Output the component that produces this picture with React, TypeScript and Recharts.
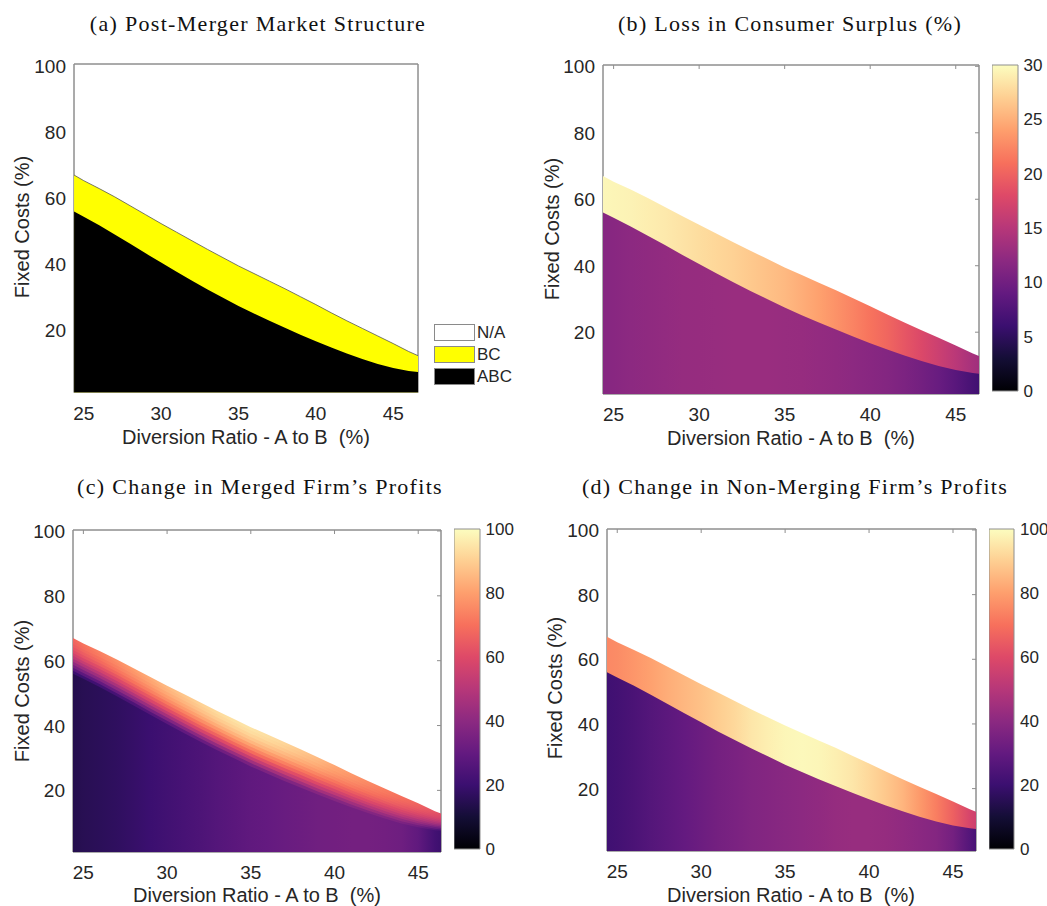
import React from 'react'
import { ComposedChart, Area, Bar, XAxis, YAxis, ReferenceArea } from 'recharts'

// diversion ratio sample points (%), edges of the grid included
const DIVERSION = [24.375, 25, 26, 27, 28, 29, 30, 31, 32, 33, 34, 35, 36, 37, 38, 39, 40, 41, 42, 43, 44, 45, 46, 46.625]
// fixed cost thresholds (%)
const BC_UPPER = [67, 65.3, 62.9, 60.4, 57.7, 55.0, 52.3, 49.7, 47.1, 44.5, 42.0, 39.5, 37.2, 34.9, 32.6, 30.2, 27.8, 25.3, 22.9, 20.6, 18.3, 16.0, 13.6, 12.3]
const ABC_UPPER = [56, 54.4, 51.8, 49.0, 46.2, 43.3, 40.5, 37.7, 35.0, 32.4, 29.9, 27.4, 25.1, 22.9, 20.8, 18.7, 16.7, 14.8, 13.0, 11.3, 9.8, 8.6, 7.7, 7.4]

// (b) loss in consumer surplus, %
const CS_LOSS_ABC = [11.5, 11.7, 12.0, 12.2, 12.4, 12.6, 12.7, 12.8, 12.9, 12.9, 12.9, 12.8, 12.7, 12.5, 12.3, 12.0, 11.7, 11.3, 10.8, 10.1, 9.3, 8.2, 6.8, 6.0]
const CS_LOSS_BC = [29.6, 29.5, 29.3, 29.0, 28.7, 28.3, 27.9, 27.5, 27.1, 26.6, 26.1, 25.6, 24.9, 24.1, 23.2, 22.2, 21.2, 20.2, 19.0, 17.8, 16.5, 15.2, 13.8, 13.0]

// (c) merged firm's profit change: level below the band and at its top edge
const MERGED_BASE = [14, 15, 16, 17, 18.5, 20, 21.5, 23, 24.5, 26, 27.5, 29, 30, 31, 32, 33, 33.5, 34, 34, 33.5, 32.5, 29, 22, 19]
const MERGED_PEAK = [68, 71, 74, 77, 80, 83, 86, 88.5, 91, 93, 94.5, 95, 94, 92, 89, 86, 82, 79, 76, 73, 70, 67, 63, 60]
// share of (peak - base) reached inside each slice of the BC band, bottom to top
const MERGED_RAMP = [0.1, 0.24, 0.38, 0.5, 0.61, 0.7, 0.78, 0.85, 0.9, 0.94, 0.97, 0.99]

// (d) non-merging firm's profit change
const RIVAL_ABC = [21, 22, 24, 26, 28, 30, 32, 34, 35.5, 37, 38, 39, 40, 41, 42, 42.5, 42.5, 42, 41, 39.5, 38, 34, 26, 21]
const RIVAL_BC = [75, 76, 78, 80.5, 83, 85, 87, 89.5, 92, 95, 97, 98.5, 99, 98.5, 97, 95, 92, 88.5, 84.5, 79, 73, 66, 58, 54]

const X_TICKS = [25, 30, 35, 40, 45]
const Y_TICKS = [20, 40, 60, 80, 100]
const CS_TICKS = [0, 5, 10, 15, 20, 25, 30]
const PROFIT_TICKS = [0, 20, 40, 60, 80, 100]

const LEGEND_ITEMS = [
    { label: 'N/A', color: '#ffffff' },
    { label: 'BC', color: '#ffff00' },
    { label: 'ABC', color: '#000000' }
]

const X_LABEL = 'Diversion Ratio - A to B  (%)'
const Y_LABEL = 'Fixed Costs (%)'

const FRAME = '#8e8e8e'
const INK = '#262626'
const SANS = '"Liberation Sans", Arial, sans-serif'
const SERIF = '"Liberation Serif", "Times New Roman", serif'

const MAGMA = ['#000004', '#140e36', '#3b0f70', '#641a80', '#8c2981', '#b73779', '#de4968', '#f7705c', '#fe9f6d', '#fecf92', '#fcfdbf']

type Row = { x: number; up: number; low: number }

const ROWS: Row[] = DIVERSION.map((x, i) => ({ x, up: BC_UPPER[i], low: ABC_UPPER[i] }))

function hexRgb(h: string) {
    return [1, 3, 5].map(k => parseInt(h.slice(k, k + 2), 16))
}

function magma(t: number) {
    const c = Math.max(0, Math.min(1, t)) * (MAGMA.length - 1)
    const i = Math.min(Math.floor(c), MAGMA.length - 2)
    const f = c - i
    const a = hexRgb(MAGMA[i])
    const b = hexRgb(MAGMA[i + 1])
    const m = a.map((v, k) => Math.round(v + (b[k] - v) * f))
    return `rgb(${m[0]},${m[1]},${m[2]})`
}

type Layer = { id: string; top: (r: Row) => number; colors?: string[]; fill?: string; stroke?: string }

type Rect = { x: number; y: number; w: number; h: number }

const AXIS_W = 60
const AXIS_H = 40
const PAD = 12
const TICK_FONT = 19

const BottomTick = (p: any) => (
    <text x={p.x} y={p.y + 27} textAnchor="middle" fontSize={TICK_FONT} fill={INK} fontFamily={SANS}>
        {p.payload.value}
    </text>
)

const LeftTick = (p: any) => (
    <text x={p.x - 8} y={p.y + 7} textAnchor="end" fontSize={TICK_FONT} fill={INK} fontFamily={SANS}>
        {p.payload.value}
    </text>
)

const TopTick = (p: any) => <line x1={p.x} x2={p.x} y1={p.y} y2={p.y + 4} stroke={FRAME} />
const RightTick = (p: any) => <line x1={p.x} x2={p.x - 4} y1={p.y} y2={p.y} stroke={FRAME} />
const NoTick = () => <g />

function Panel({ id, plot, xDomain, yDomain, layers, boxTicks }: {
    id: string; plot: Rect; xDomain: number[]; yDomain: number[]; layers: Layer[]; boxTicks: boolean
}) {
    const x0 = DIVERSION[0]
    const span = DIVERSION[DIVERSION.length - 1] - x0
    return (
        <div style={{ position: 'absolute', left: plot.x - AXIS_W, top: plot.y - PAD }}>
            <ComposedChart
                width={plot.w + AXIS_W + PAD}
                height={plot.h + PAD + AXIS_H}
                data={ROWS}
                margin={{ top: PAD - 1, right: PAD - 1, bottom: 0, left: 0 }}
            >
                <defs>
                    {layers.filter(l => l.colors).map(l => (
                        <linearGradient key={l.id} id={`${id}-${l.id}`} x1="0" y1="0" x2="1" y2="0">
                            {l.colors!.map((c, i) => (
                                <stop key={i} offset={(DIVERSION[i] - x0) / span} stopColor={c} />
                            ))}
                        </linearGradient>
                    ))}
                </defs>
                <XAxis dataKey="x" type="number" domain={xDomain} ticks={X_TICKS} allowDataOverflow interval={0}
                    height={AXIS_H} tickSize={0} tickMargin={0} axisLine={{ stroke: FRAME }} tick={BottomTick} />
                <XAxis xAxisId="top" dataKey="x" orientation="top" type="number" domain={xDomain} ticks={X_TICKS}
                    allowDataOverflow interval={0} height={1} tickSize={0} tickMargin={0} axisLine={{ stroke: FRAME }}
                    tick={boxTicks ? TopTick : NoTick} />
                <YAxis type="number" domain={yDomain} ticks={Y_TICKS} allowDataOverflow interval={0}
                    width={AXIS_W} tickSize={0} tickMargin={0} axisLine={{ stroke: FRAME }} tick={LeftTick} />
                <YAxis yAxisId="right" orientation="right" type="number" domain={yDomain} ticks={Y_TICKS}
                    allowDataOverflow interval={0} width={1} tickSize={0} tickMargin={0}
                    axisLine={{ stroke: FRAME }} tick={boxTicks ? RightTick : NoTick} />
                <ReferenceArea x1={xDomain[0]} x2={xDomain[1]} y1={yDomain[0]} y2={yDomain[1]}
                    fill="none" stroke={FRAME} strokeWidth={1} ifOverflow="visible" />
                {/* keeps the top and right axes in use so their box ticks get drawn */}
                <Area xAxisId="top" yAxisId="right" type="linear" dataKey="low" fill="none" stroke="none"
                    dot={false} activeDot={false} isAnimationActive={false} />
                {layers.map(l => (
                    <Area
                        key={l.id}
                        type="linear"
                        dataKey={l.top}
                        fill={l.colors ? `url(#${id}-${l.id})` : l.fill}
                        fillOpacity={1}
                        stroke={l.stroke ?? 'none'}
                        strokeWidth={0.8}
                        dot={false}
                        activeDot={false}
                        zIndex={600}
                        isAnimationActive={false}
                    />
                ))}
            </ComposedChart>
        </div>
    )
}

function ColorBar({ id, rect, max, ticks }: { id: string; rect: Rect; max: number; ticks: number[] }) {
    const CbTick = (p: any) => (
        <text x={p.x + 6} y={p.y + 6} textAnchor="start" fontSize={17} fill={INK} fontFamily={SANS}>
            {p.payload.value}
        </text>
    )
    return (
        <div style={{ position: 'absolute', left: rect.x, top: rect.y - PAD }}>
            <ComposedChart width={rect.w + 50} height={rect.h + 2 * PAD} data={[{ name: 'scale', top: max }]}
                margin={{ top: PAD, right: 0, bottom: PAD, left: 0 }} barCategoryGap={0}>
                <defs>
                    <linearGradient id={`cb-${id}`} x1="0" y1="1" x2="0" y2="0">
                        {MAGMA.map((c, i) => (
                            <stop key={i} offset={i / (MAGMA.length - 1)} stopColor={c} />
                        ))}
                    </linearGradient>
                </defs>
                <XAxis dataKey="name" type="category" hide />
                <YAxis orientation="right" type="number" domain={[0, max]} ticks={ticks} interval={0} width={50}
                    tickSize={0} tickMargin={0} axisLine={false} tick={CbTick} />
                <Bar dataKey="top" fill={`url(#cb-${id})`} stroke={FRAME} strokeWidth={1} isAnimationActive={false} />
            </ComposedChart>
        </div>
    )
}

const toColors = (vals: number[], max: number) => vals.map(v => magma(v / max))

const bandLevel = (k: number, n: number) => (r: Row) => r.low + ((r.up - r.low) * k) / n

// panel (c): band drawn as slices from the top down, each filling to the floor
const mergedLayers: Layer[] = [
    ...MERGED_RAMP.map((_, idx) => {
        const k = MERGED_RAMP.length - idx
        const share = MERGED_RAMP[k - 1]
        return {
            id: `ramp${k}`,
            top: bandLevel(k, MERGED_RAMP.length),
            colors: MERGED_BASE.map((b, i) => magma((b + (MERGED_PEAK[i] - b) * share) / 100))
        }
    }),
    { id: 'abc', top: (r: Row) => r.low, colors: toColors(MERGED_BASE, 100) }
]

function Title({ text, cx, cy }: { text: string; cx: number; cy: number }) {
    return (
        <div style={{
            position: 'absolute', left: cx - 300, top: cy - 14, width: 600, textAlign: 'center',
            fontFamily: SERIF, fontSize: 22, lineHeight: '28px', letterSpacing: 1.3, color: '#111', whiteSpace: 'nowrap'
        }}>{text}</div>
    )
}

function XLabel({ cx, cy }: { cx: number; cy: number }) {
    return (
        <div style={{
            position: 'absolute', left: cx - 200, top: cy - 12, width: 400, textAlign: 'center',
            fontFamily: SANS, fontSize: 20, lineHeight: '24px', color: INK, whiteSpace: 'pre'
        }}>{X_LABEL}</div>
    )
}

function YLabel({ cx, cy }: { cx: number; cy: number }) {
    return (
        <div style={{
            position: 'absolute', left: cx, top: cy, transform: 'translate(-50%, -50%) rotate(-90deg)',
            fontFamily: SANS, fontSize: 20, lineHeight: '24px', color: INK, whiteSpace: 'nowrap'
        }}>{Y_LABEL}</div>
    )
}

export default function App() {
    return (
        <div style={{ position: 'absolute', left: 0, top: 0, width: 1047, height: 906, background: '#fff' }}>
            <Title text="(a) Post-Merger Market Structure" cx={258} cy={24} />
            <Title text="(b) Loss in Consumer Surplus (%)" cx={790} cy={24} />
            <Title text="(c) Change in Merged Firm’s Profits" cx={260} cy={487} />
            <Title text="(d) Change in Non-Merging Firm’s Profits" cx={795} cy={487} />

            <Panel id="a" plot={{ x: 74, y: 63.5, w: 344, h: 328.5 }} xDomain={[24.37, 46.6]} yDomain={[1.2, 100.6]}
                boxTicks={false}
                layers={[
                    { id: 'bc', top: r => r.up, fill: '#ffff00', stroke: '#555' },
                    { id: 'abc', top: r => r.low, fill: '#000000' }
                ]} />
            <Panel id="b" plot={{ x: 603, y: 64.5, w: 376, h: 329 }} xDomain={[24.38, 46.36]} yDomain={[1.4, 100.4]}
                boxTicks
                layers={[
                    { id: 'bc', top: r => r.up, colors: toColors(CS_LOSS_BC, 30) },
                    { id: 'abc', top: r => r.low, colors: toColors(CS_LOSS_ABC, 30) }
                ]} />
            <Panel id="c" plot={{ x: 73, y: 530, w: 368, h: 322 }} xDomain={[24.38, 46.36]} yDomain={[1, 100.3]}
                boxTicks layers={mergedLayers} />
            <Panel id="d" plot={{ x: 607, y: 529, w: 369, h: 322 }} xDomain={[24.39, 46.37]} yDomain={[0.7, 100.3]}
                boxTicks
                layers={[
                    { id: 'bc', top: r => r.up, colors: toColors(RIVAL_BC, 100) },
                    { id: 'abc', top: r => r.low, colors: toColors(RIVAL_ABC, 100) }
                ]} />

            <ColorBar id="b" rect={{ x: 992, y: 64.5, w: 25.5, h: 326 }} max={30} ticks={CS_TICKS} />
            <ColorBar id="c" rect={{ x: 453.5, y: 529, w: 25.5, h: 320 }} max={100} ticks={PROFIT_TICKS} />
            <ColorBar id="d" rect={{ x: 988.5, y: 529, w: 25, h: 320 }} max={100} ticks={PROFIT_TICKS} />

            {LEGEND_ITEMS.map((item, i) => (
                <div key={item.label} style={{ position: 'absolute', left: 434, top: 324 + i * 22, height: 17, display: 'flex', alignItems: 'center' }}>
                    <div style={{ width: 39, height: 15, background: item.color, border: '1px solid #8a8a8a' }} />
                    <span style={{ marginLeft: 2, fontFamily: SANS, fontSize: 17, color: INK }}>{item.label}</span>
                </div>
            ))}

            <XLabel cx={246} cy={437} />
            <XLabel cx={791} cy={438} />
            <XLabel cx={257} cy={895} />
            <XLabel cx={791} cy={895} />
            <YLabel cx={22} cy={227} />
            <YLabel cx={552} cy={229} />
            <YLabel cx={22} cy={691} />
            <YLabel cx={555} cy={688} />
        </div>
    )
}
